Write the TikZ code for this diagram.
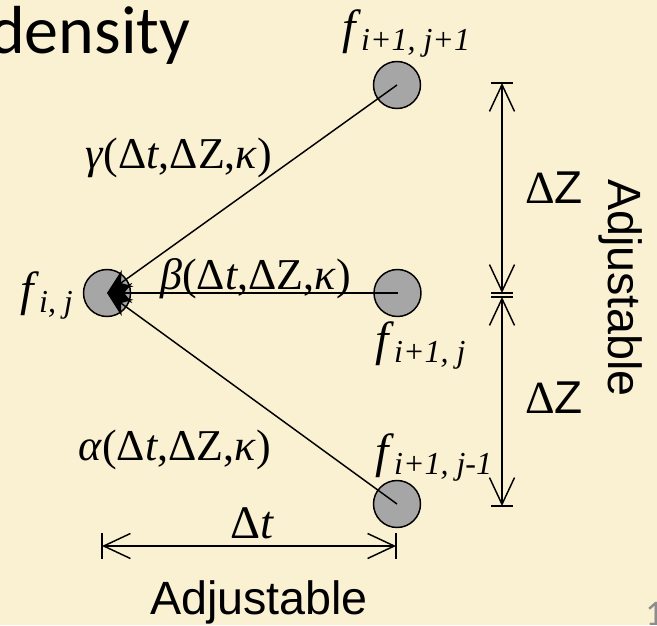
\documentclass[tikz,border=0pt]{standalone}
\usepackage{fontspec}
\setmainfont{Liberation Serif}
\setsansfont{Liberation Sans}
\newfontfamily\titlefont{Carlito}
\usetikzlibrary{arrows.meta}

\definecolor{parchment}{RGB}{250,240,210}
\definecolor{sitegray}{RGB}{166,166,166}
\definecolor{pagegray}{RGB}{140,140,140}

\newcommand{\fsub}[1]{\textit{f}\raisebox{-5.25pt}{\fontsize{24}{24}\selectfont\itshape #1}}
\newcommand{\coeff}[1]{\textit{#1}(Δ\textit{t},ΔZ,\textit{κ})}

\begin{document}
\begin{tikzpicture}[x=0.75pt, y=-0.75pt, every node/.style={inner sep=0pt},
	site/.style={circle, draw, line width=1.1pt, fill=sitegray, minimum size=35.25pt},
	flow/.style={line width=1.1pt, -{Stealth[length=19pt, width=15pt]}},
	dim/.style={line width=1.1pt, {Straight Barb[length=20pt, width=18.75pt]}-{Straight Barb[length=20pt, width=18.75pt]}},
	tick/.style={line width=1.1pt},
	fname/.style={font=\fontsize{36}{36}\selectfont, anchor=base west},
	coef/.style={font=\fontsize{33}{33}\selectfont, anchor=base west},
	adj/.style={font=\sffamily\fontsize{35}{35}\selectfont, anchor=base}]
	\useasboundingbox (0,0) rectangle (657,625);
	\clip (0,0) rectangle (657,625);
	\fill[parchment] (0,0) rectangle (657,625);

	% title, cut at the left edge
	\node[font=\titlefont\fontsize{51}{51}\selectfont, anchor=base west] (title) at (-11,53) {density};

	% grid points
	\node[site] (fij) at (107,293) {};
	\node[site] (fup) at (397,85) {};
	\node[site] (fmid) at (397.5,293) {};
	\node[site] (fdn) at (397,504) {};

	\node[fname] (lij) at (20,305) {\fsub{i, j}};
	\node[fname] (lup) at (342,43) {\fsub{i+1, j+1}};
	\node[fname] (lmid) at (375,355) {\fsub{i+1, j}};
	\node[fname] (ldn) at (375,467) {\fsub{i+1, j-1}};

	% weights
	\draw[flow] (fup.center) -- (fij.center);
	\draw[flow] (fmid.center) -- (fij.center);
	\draw[flow] (fdn.center) -- (fij.center);
	\node[coef] (gamma) at (85,168) {\coeff{γ}};
	\node[coef] (beta) at (160,289) {\coeff{β}};
	\node[coef] (alpha) at (78,460) {\coeff{α}};

	% step sizes
	\coordinate (ztop) at (502,83);
	\coordinate (zmidA) at (502,293);
	\coordinate (zmidB) at (502,297);
	\coordinate (zbot) at (502,506);
	\coordinate (tleft) at (102,546);
	\coordinate (tright) at (396,546);
	\draw[dim] (zmidA) -- (ztop);
	\draw[dim] (zmidB) -- (zbot);
	\draw[dim] (tleft) -- (tright);
	\foreach \c in {ztop,zmidA,zmidB,zbot}
		\draw[tick] ([xshift=-8.25pt]\c) -- ([xshift=8.25pt]\c);
	\foreach \c in {tleft,tright}
		\draw[tick] ([yshift=-9.4pt]\c) -- ([yshift=9.4pt]\c);

	\node[font=\fontsize{34.5}{34.5}\selectfont, anchor=base west] (dzup) at (525,203) {Δ{\sffamily Z}};
	\node[font=\fontsize{34.5}{34.5}\selectfont, anchor=base west] (dzdn) at (525,413) {Δ{\sffamily Z}};
	\node[font=\fontsize{35}{35}\selectfont, anchor=base] (dt) at (252,538) {Δ\textit{t}};

	\node[adj, rotate=-90] (adjz) at (608,288) {Adjustable};
	\node[adj] (adjt) at (259,614) {Adjustable};

	% slide number, cut at the corner
	\node[font=\titlefont\fontsize{27}{27}\selectfont, text=pagegray, anchor=base west] (page) at (645,625) {1};
\end{tikzpicture}
\end{document}
